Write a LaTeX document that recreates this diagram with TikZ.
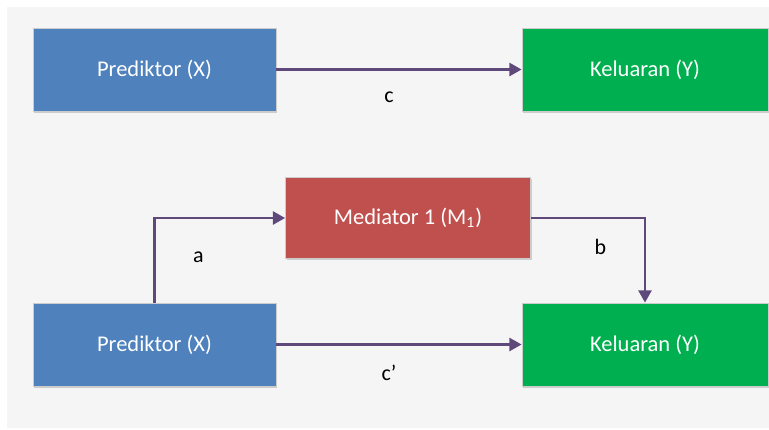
\documentclass[tikz,border=0pt]{standalone}
\usepackage{fontspec}
\setmainfont{Carlito}
\usepackage{xcolor}
\usetikzlibrary{arrows.meta, positioning, shadows}

\definecolor{predblue}{HTML}{4F81BD}
\definecolor{outgreen}{HTML}{00B050}
\definecolor{medred}{HTML}{C0504D}
\definecolor{arrowpurple}{HTML}{5F497A}
\definecolor{panelgray}{HTML}{F5F5F5}

\begin{document}
\begin{tikzpicture}[
    x=0.02cm, y=-0.02cm,
    box/.style={draw=white!80!black, line width=0.5pt, rectangle,
      minimum width=4.86cm, minimum height=1.66cm, align=center,
      text=white, font=\fontsize{12.8}{15}\selectfont,
      drop shadow={shadow xshift=0.8pt, shadow yshift=-1pt, opacity=0.35}},
    pathlabel/.style={font=\fontsize{12.5}{15}\selectfont, inner sep=0pt},
    arrow/.style={line width=1.4pt, draw=arrowpurple, ->,
      >={Triangle[length=7pt, width=7.5pt]}}
]
\useasboundingbox (0,0) rectangle (769,430);
\fill[panelgray] (7,7) rectangle (769,428);

% total effect
\node[box, fill=predblue] (pred_top) at (154.5,69.5) {Prediktor (X)};
\node[box, fill=outgreen, minimum width=4.92cm] (out_top) at (645,69.5) {Keluaran (Y)};

% mediated model
\node[box, fill=medred, minimum width=4.9cm, minimum height=1.62cm] (med) at (408,218) {Mediator 1 (M\textsubscript{1})};
\node[box, fill=predblue] (pred_bot) at (154.5,344.5) {Prediktor (X)};
\node[box, fill=outgreen, minimum width=4.92cm] (out_bot) at (645,344.5) {Keluaran (Y)};

\draw[arrow] (pred_top) -- node[pathlabel, below=0.42cm, xshift=-0.2cm] (lbl_c) {c} (out_top);
\draw[arrow] (pred_bot.north) |- node[pathlabel, pos=0.27, right=0.75cm] (lbl_a) {a} (med.west);
\draw[arrow] (med.east) -| node[pathlabel, pos=0.67, left=0.75cm] (lbl_b) {b} (out_bot.north);
\draw[arrow] (pred_bot) -- node[pathlabel, below=0.38cm, xshift=-0.2cm] (lbl_cp) {c’} (out_bot);
\end{tikzpicture}
\end{document}
